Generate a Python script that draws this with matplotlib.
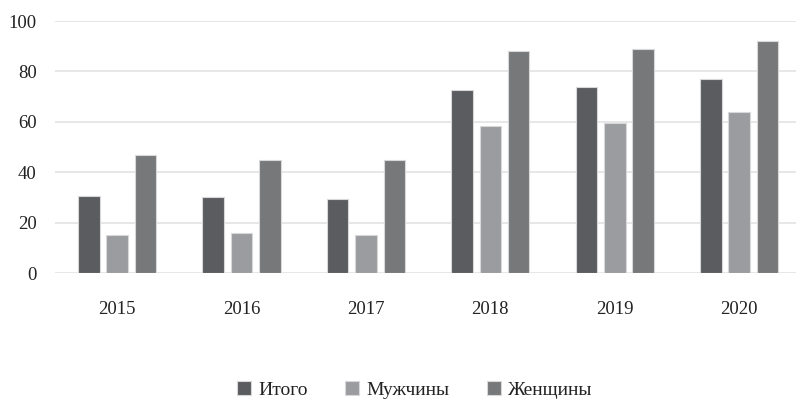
import matplotlib
matplotlib.use("Agg")
import matplotlib.pyplot as plt
import numpy as np

years = ["2015", "2016", "2017", "2018", "2019", "2020"]
series_names = ["Итого", "Мужчины", "Женщины"]
itogo = [30.7, 30.2, 29.6, 72.6, 73.7, 77.1]
muzhchiny = [15.3, 15.8, 15.3, 58.2, 59.4, 63.9]
zhenshchiny = [46.9, 45.0, 45.0, 88.0, 89.1, 92.0]
yticks = [0, 20, 40, 60, 80, 100]

colors = ["#5b5c60", "#9b9c9f", "#77787a"]

plt.rcParams['font.family'] = ['Liberation Serif', 'DejaVu Serif']

fig = plt.figure(figsize=(7.96, 4.01), dpi=100)
ax = fig.add_axes([0.069, 0.3185, 0.931, 0.629])

x = np.arange(len(years))
width = 0.173
step = 0.228
for i, (vals, name) in enumerate(zip([itogo, muzhchiny, zhenshchiny], series_names)):
    ax.bar(x + (i - 1) * step, vals, width, color=colors[i], label=name,
           edgecolor="#d8d8d8", linewidth=0.8, zorder=3)

ax.set_xlim(-0.5, 5.457)
ax.set_ylim(0, 100)
ax.set_yticks(yticks)
ax.set_xticks(x)
ax.set_xticklabels(years)
ax.grid(axis='y', color="#e3e3e3", linewidth=1.2, zorder=0)
for s in ax.spines.values():
    s.set_visible(False)
ax.tick_params(axis='both', length=0, labelsize=13.5, colors="#222222")
ax.tick_params(axis='x', pad=20)
ax.tick_params(axis='y', pad=13)

fig.legend(loc='center', bbox_to_anchor=(0.521, 0.028), ncol=3, frameon=False,
           fontsize=14, handlelength=0.72, handleheight=0.72, handletextpad=0.4,
           columnspacing=1.9, labelcolor="#222222")

fig.savefig("out.png", dpi=100)
